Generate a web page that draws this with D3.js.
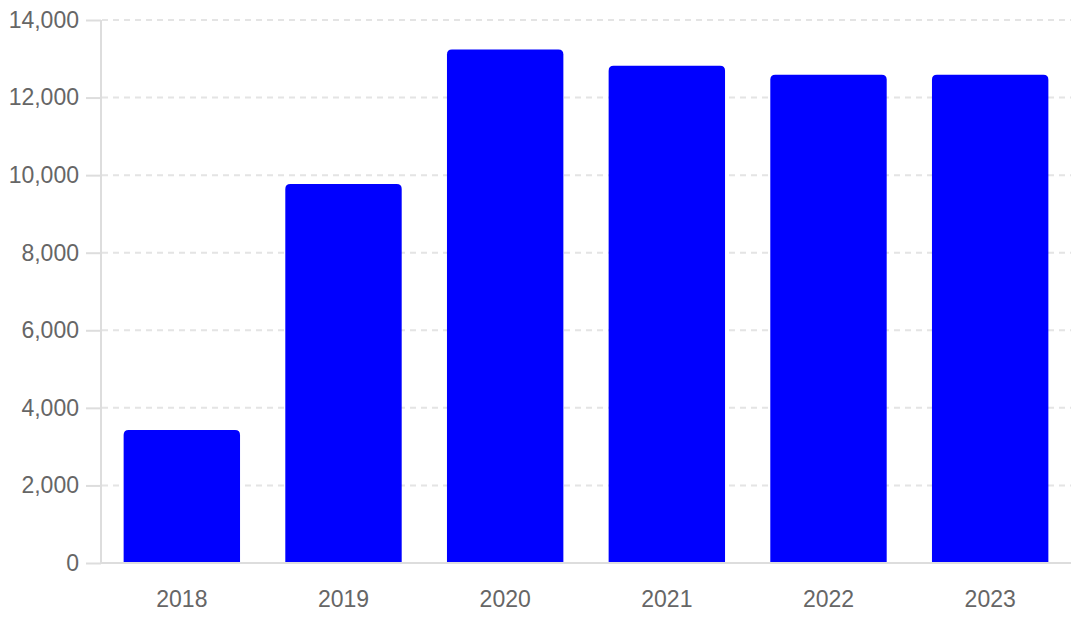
<!DOCTYPE html>
<html>
<head>
<meta charset="utf-8">
<script src="https://cdn.jsdelivr.net/npm/d3@7"></script>
<style>
  html, body { margin: 0; padding: 0; background: #fff; }
  svg { display: block; }
</style>
</head>
<body>
<svg id="chart" width="1071" height="620"></svg>
<script>
const categories = ["2018", "2019", "2020", "2021", "2022", "2023"];
const values = [3430, 9770, 13240, 12820, 12590, 12590];
const yTicks = [0, 2000, 4000, 6000, 8000, 10000, 12000, 14000];

const W = 1071, H = 620;
const margin = { top: 20, right: 0, bottom: 57, left: 101 };
const svg = d3.select("#chart");

const x = d3.scaleBand()
  .domain(categories)
  .range([margin.left, W - margin.right])
  .paddingInner(0.28)
  .paddingOuter(0.14);

const y = d3.scaleLinear()
  .domain([0, 14000])
  .range([H - margin.bottom, margin.top]);

const fmt = d3.format(",");
const font = "'Liberation Sans', Arial, Helvetica, sans-serif";

// gridlines
svg.append("g")
  .selectAll("line")
  .data(yTicks.filter(d => d > 0))
  .join("line")
  .attr("x1", margin.left + 1)
  .attr("x2", W - margin.right)
  .attr("y1", d => y(d))
  .attr("y2", d => y(d))
  .attr("stroke", "#e4e4e4")
  .attr("stroke-width", 2)
  .attr("stroke-dasharray", "6,5");

// bars with rounded top corners
const r = 5;
svg.append("g")
  .selectAll("path")
  .data(values)
  .join("path")
  .attr("fill", "#0000ff")
  .attr("d", (d, i) => {
    const x0 = x(categories[i]);
    const x1 = x0 + x.bandwidth();
    const y0 = y(0);
    const y1 = y(d);
    return `M${x0},${y0} L${x0},${y1 + r} Q${x0},${y1} ${x0 + r},${y1} L${x1 - r},${y1} Q${x1},${y1} ${x1},${y1 + r} L${x1},${y0} Z`;
  });

// y axis
const yAxis = svg.append("g")
  .attr("transform", `translate(${margin.left},0)`)
  .call(d3.axisLeft(y).tickValues(yTicks).tickFormat(fmt).tickSize(15).tickPadding(7));
yAxis.select(".domain").attr("stroke", "#dddddd").attr("stroke-width", 2).attr("d", `M0,${y(14000)}V${y(0)}`);
yAxis.selectAll(".tick line").attr("stroke", "#dddddd").attr("stroke-width", 2);
yAxis.selectAll(".tick text")
  .attr("fill", "#666666")
  .attr("font-family", font)
  .attr("font-size", 23);

// x axis
const xAxis = svg.append("g")
  .attr("transform", `translate(0,${y(0)})`)
  .call(d3.axisBottom(x).tickSize(0).tickPadding(28));
xAxis.select(".domain").attr("stroke", "#dddddd").attr("stroke-width", 2).attr("d", `M${margin.left},0H${W}`);
xAxis.selectAll(".tick text")
  .attr("fill", "#666666")
  .attr("font-family", font)
  .attr("font-size", 23);
yAxis.raise();
</script>
</body>
</html>
